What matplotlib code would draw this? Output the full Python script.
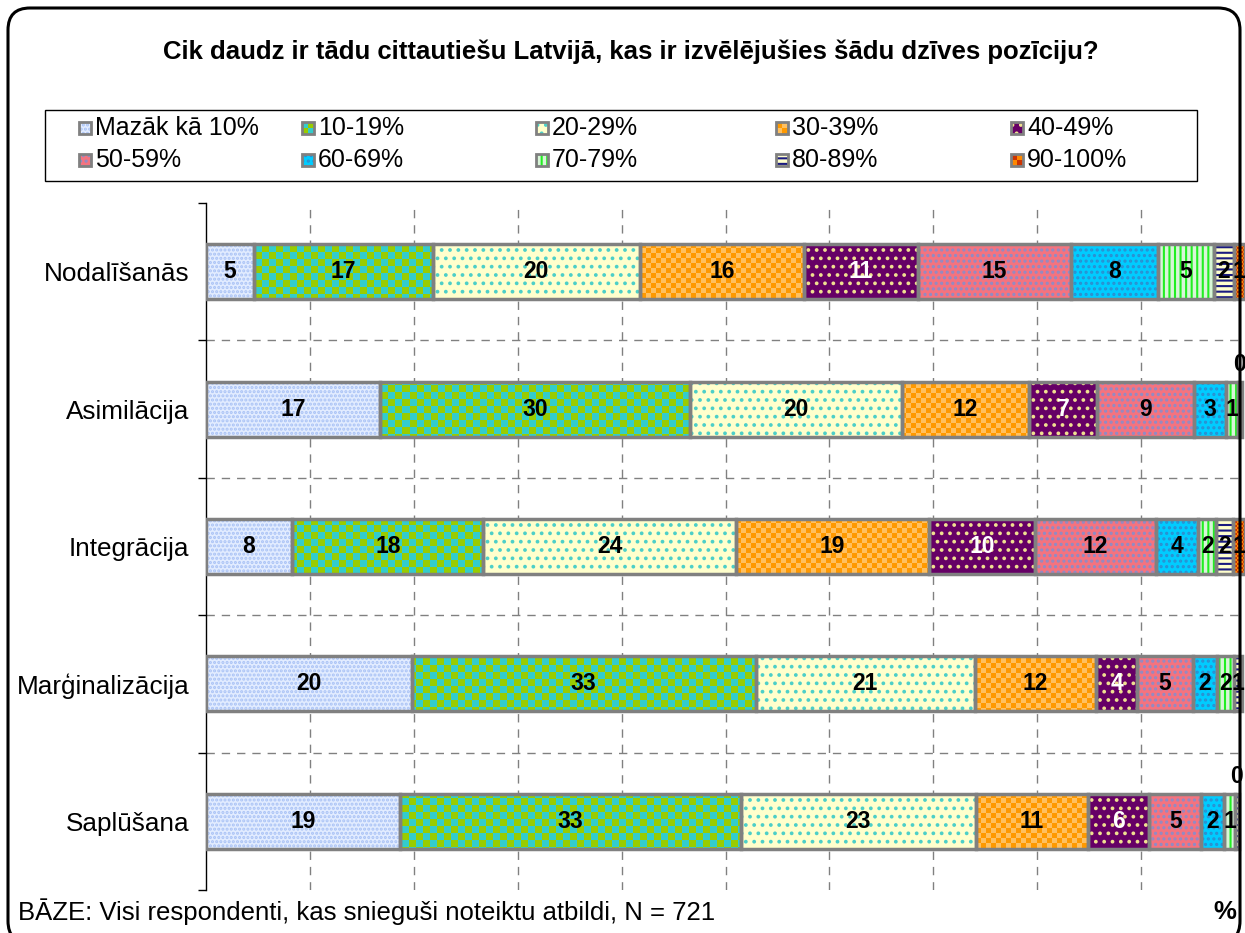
import numpy as np
import matplotlib.pyplot as plt
from matplotlib.patches import Rectangle, FancyBboxPatch
from matplotlib.colors import to_rgb

plt.rcParams['font.family'] = ['Liberation Sans', 'DejaVu Sans']
plt.rcParams['hatch.linewidth'] = 1.5

title = "Cik daudz ir tādu cittautiešu Latvijā, kas ir izvēlējušies šādu dzīves pozīciju?"
categories = ['Nodalīšanās', 'Asimilācija', 'Integrācija', 'Marģinalizācija', 'Saplūšana']
series = ['Mazāk kā 10%', '10-19%', '20-29%', '30-39%', '40-49%',
          '50-59%', '60-69%', '70-79%', '80-89%', '90-100%']

# shares (%) per answer group
nodalisanas = [4.6, 17.2, 20.0, 15.8, 10.9, 14.8, 8.3, 5.4, 1.9, 1.1]
asimilacija = [16.7, 29.9, 20.4, 12.2, 6.6, 9.3, 3.1, 1.1, 0.4, 0.0]
integracija = [8.3, 18.4, 24.3, 18.6, 10.2, 11.6, 4.1, 1.7, 1.6, 1.2]
marginalizacija = [19.8, 33.1, 21.1, 11.7, 3.9, 5.4, 2.3, 1.6, 0.8, 0.0]
saplusana = [18.7, 32.8, 22.6, 10.8, 5.9, 5.0, 2.2, 1.0, 0.4, 0.0]
values = [nodalisanas, asimilacija, integracija, marginalizacija, saplusana]

base_text = "BĀZE: Visi respondenti, kas snieguši noteiktu atbildi, N = 721"

# fill styles imitating the Excel patterns
fills = [
    ('hatch', '#E2ECFF', '#A9C2F5', '....'),
    ('checker', '#33CCCC', '#99CC00', 7),
    ('hatch', '#FFFFCC', '#4CCFC8', '..'),
    ('checker', '#FF9900', '#FFC060', 5),
    ('hatch', '#660066', '#F0E090', '..'),
    ('hatch', '#F4737F', '#8C8CC8', '...'),
    ('hatch', '#00CCFF', '#2C8FD0', '...'),
    ('hatch', '#D8F5D8', '#22EE22', '|||'),
    ('hatch', '#FFFFCC', '#1A1A80', '---'),
    ('checker', '#CC3300', '#FF8800', 2),
]

W, H = 1245, 933
fig = plt.figure(figsize=(W / 100, H / 100), dpi=100)
ax_l, ax_b, ax_w, ax_h = 206 / W, 43 / H, 1039 / W, 687 / H
ax = fig.add_axes([ax_l, ax_b, ax_w, ax_h])

bar_h = 0.40
px_w, px_h = ax_w * W, ax_h * H


def checker_image(c1, c2, cell):
    nx = int(px_w // cell) + 2
    ny = int(px_h // cell) + 2
    jj, ii = np.meshgrid(np.arange(nx), np.arange(ny))
    mask = ((ii + jj) % 2)[..., None]
    img = np.where(mask == 1, np.array(to_rgb(c1)), np.array(to_rgb(c2)))
    ext = (0, nx * cell / px_w * 100, -0.5 + ny * cell / px_h * 5, -0.5)
    return img, ext


for i, row in enumerate(values):
    left = 0.0
    for j, v in enumerate(row):
        if v <= 0:
            continue
        kind = fills[j][0]
        if kind == 'hatch':
            _, face, hc, hatch = fills[j]
            ax.barh(i, v, left=left, height=bar_h, color=face, edgecolor=hc,
                    hatch=hatch, lw=0, zorder=2)
        else:
            _, c1, c2, cell = fills[j]
            img, ext = checker_image(c1, c2, cell)
            im = ax.imshow(img, extent=ext, interpolation='nearest',
                           aspect='auto', zorder=2)
            clip = Rectangle((left, i - bar_h / 2), v, bar_h, transform=ax.transData)
            im.set_clip_path(clip)
        ax.barh(i, v, left=left, height=bar_h, fill=False,
                edgecolor='#808080', lw=2.5, zorder=3)
        lab = f"{v:.0f}"
        col = 'white' if j == 4 else 'black'
        if lab == '0':
            ax.text(left + v / 2, i - bar_h / 2 - 0.04, lab, ha='center', va='bottom',
                    fontsize=16.5, fontweight='bold', color=col, zorder=5)
        else:
            ax.text(left + v / 2, i, lab, ha='center', va='center',
                    fontsize=16.5, fontweight='bold', color=col, zorder=5)
        left += v

ax.set_xlim(0, 100)
ax.set_ylim(4.5, -0.5)

for x in range(10, 100, 10):
    ax.axvline(x, color='#808080', lw=1, ls=(0, (6, 5)), zorder=0)
for y in np.arange(0.5, 4, 1):
    ax.axhline(y, color='#808080', lw=1, ls=(0, (6, 5)), zorder=0)

ax.set_xticks([])
ax.set_yticks(range(len(categories)))
ax.set_yticklabels(categories)
ax.set_yticks(np.arange(-0.5, 5, 1), minor=True)
ax.tick_params(axis='y', which='major', length=0, pad=12, labelsize=18.8)
ax.tick_params(axis='y', which='minor', length=6, direction='out', width=1)
for s in ['top', 'right', 'bottom']:
    ax.spines[s].set_visible(False)
ax.spines['left'].set_linewidth(1)
ax.patch.set_alpha(0)

fig.text(631 / W, 1 - 52 / H, title, ha='center', va='center',
         fontsize=18.5, fontweight='bold')

# legend box
fig.add_artist(Rectangle((45 / W, 1 - 181 / H), (1197 - 45) / W, 71 / H,
                         transform=fig.transFigure, fill=False, ec='black', lw=1))
col_x = [95, 318, 552, 792, 1027]
row_y = [128, 160]
sq = 12
for k, name in enumerate(series):
    r, c = divmod(k, 5)
    tx, ty = col_x[c], row_y[r]
    x0, y0 = (tx - 16) / W, 1 - (ty + sq / 2) / H
    sw, shh = sq / W, sq / H
    f = fills[k]
    if f[0] == 'hatch':
        fig.add_artist(Rectangle((x0, y0), sw, shh, transform=fig.transFigure,
                                 facecolor=f[1], edgecolor=f[2], hatch=f[3], lw=0))
    else:
        for a in range(2):
            for b in range(2):
                fig.add_artist(Rectangle((x0 + a * sw / 2, y0 + b * shh / 2), sw / 2, shh / 2,
                                         transform=fig.transFigure, lw=0,
                                         facecolor=f[1] if (a + b) % 2 else f[2]))
    fig.add_artist(Rectangle((x0, y0), sw, shh, transform=fig.transFigure,
                             fill=False, ec='#808080', lw=2))
    fig.text(tx / W, 1 - ty / H, name, ha='left', va='center', fontsize=18)

fig.text(18 / W, 1 - 912 / H, base_text, ha='left', va='center', fontsize=18.5)
fig.text(1213 / W, 1 - 912 / H, '%', ha='left', va='center', fontsize=18.5,
         fontweight='bold')

# rounded frame around the whole chart
fig.add_artist(FancyBboxPatch((0.08, -0.1), 12.32, 9.35,
                              boxstyle='round,pad=0,rounding_size=0.22',
                              transform=fig.dpi_scale_trans, fill=False,
                              ec='black', lw=2.2, clip_on=False))

fig.savefig('out.png', dpi=100)
